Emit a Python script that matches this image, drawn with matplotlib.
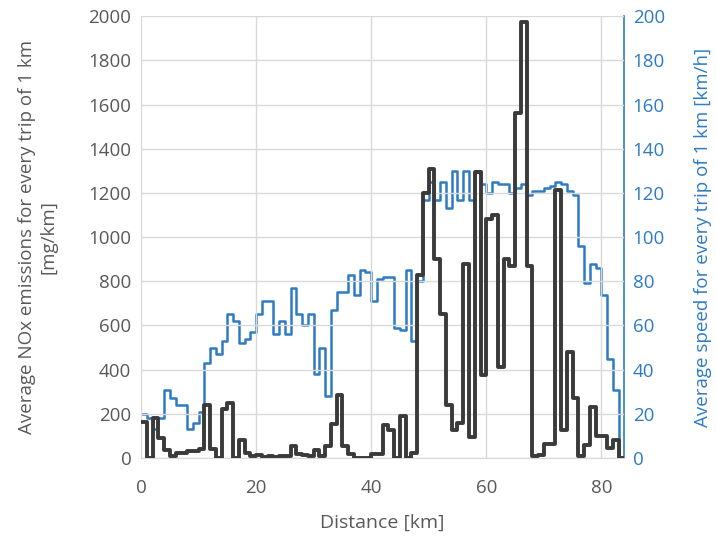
import matplotlib.pyplot as plt
import numpy as np

# per-km bins (km 0..83)
nox = [165, 0, 180, 90, 35, 10, 25, 25, 30, 30,
       40, 240, 40, 0, 220, 250, 0, 80, 25, 10,
       15, 5, 10, 5, 10, 10, 55, 20, 15, 10,
       35, 10, 55, 155, 285, 55, 20, 0, 0, 0,
       20, 20, 150, 125, 0, 190, 0, 25, 830, 1200,
       1310, 900, 650, 240, 125, 160, 880, 95, 1295, 375,
       1080, 1100, 410, 900, 870, 1560, 1975, 870, 10, 15,
       65, 65, 1215, 125, 480, 270, 10, 60, 230, 100,
       100, 45, 80, 0]
speed = [20, 18, 13, 18, 31, 27, 24, 24, 13, 16,
         21, 43, 50, 47, 53, 65, 62, 52, 54, 57,
         65, 71, 71, 56, 62, 56, 77, 65, 60, 65,
         38, 50, 28, 67, 75, 75, 83, 74, 85, 84,
         71, 81, 82, 82, 59, 58, 85, 53, 80, 117,
         125, 117, 125, 113, 130, 117, 130, 117, 130, 124,
         120, 125, 124, 124, 120, 122, 124, 119, 121, 121,
         122, 123, 125, 124, 121, 119, 96, 79, 88, 86,
         74, 45, 31, 0]
km = np.arange(len(nox) + 1)

grey = '#595959'
blue = '#2E7BC4'
plt.rcParams['font.family'] = ['Open Sans', 'DejaVu Sans']

fig, ax = plt.subplots(figsize=(7.16, 5.37), dpi=100)
fig.subplots_adjust(left=0.197, right=0.872, top=0.970, bottom=0.147)
ax2 = ax.twinx()

ax.step(km, nox + [nox[-1]], where='post', color='#3a3a3a', lw=2.8, zorder=3)
ax2.step(km, speed + [speed[-1]], where='post', color=blue, lw=1.8, zorder=2)

ax.set_zorder(ax2.get_zorder() + 1)
ax.patch.set_visible(False)

ax.set_xlim(0, 84)
ax.set_ylim(0, 2000)
ax2.set_ylim(0, 200)
ax.set_xticks(range(0, 81, 20))
ax.set_yticks(range(0, 2001, 200))
ax2.set_yticks(range(0, 201, 20))
ax.grid(True, color='#d9d9d9', lw=1)
ax.tick_params(axis='y', length=0, labelsize=13.5, labelcolor=grey, pad=7)
ax.tick_params(axis='x', length=0, labelsize=13.5, labelcolor=grey, pad=15)
ax2.tick_params(length=0, labelsize=13.5, labelcolor=blue, pad=6)

for a in (ax, ax2):
    for s in a.spines.values():
        s.set_visible(False)
ax2.spines['right'].set_visible(True)
ax2.spines['right'].set_color(blue)
ax2.spines['right'].set_linewidth(1.2)
ax.spines['bottom'].set_visible(True)
ax.spines['bottom'].set_color('#d9d9d9')

ax.set_xlabel('Distance [km]', fontsize=14, color=grey, labelpad=12)
ax.set_ylabel('Average NOx emissions for every trip of 1 km\n[mg/km]', fontsize=13.5,
              color=grey, labelpad=22, linespacing=1.3)
ax2.set_ylabel('Average speed for every trip of 1 km [km/h]', fontsize=13.5, color=blue, labelpad=21)

plt.savefig('out.png', dpi=100)
